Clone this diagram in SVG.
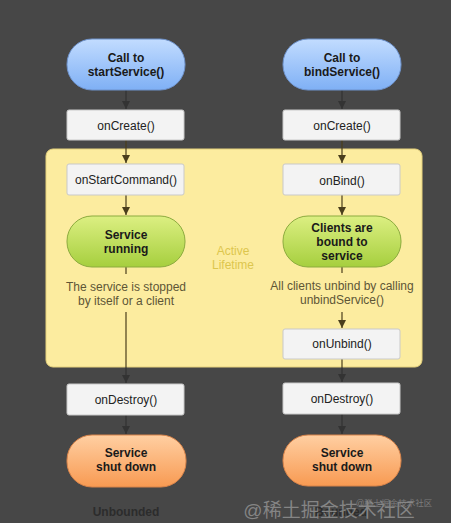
<svg xmlns="http://www.w3.org/2000/svg" width="451" height="523" viewBox="0 0 451 523">
<defs>
<linearGradient id="gBlue" x1="0" y1="0" x2="0" y2="1"><stop offset="0" stop-color="#c2dcff"/><stop offset="1" stop-color="#7fb0f5"/></linearGradient>
<linearGradient id="gGreen" x1="0" y1="0" x2="0" y2="1"><stop offset="0" stop-color="#dcef82"/><stop offset="1" stop-color="#a6cf3e"/></linearGradient>
<linearGradient id="gOrange" x1="0" y1="0" x2="0" y2="1"><stop offset="0" stop-color="#ffcfa2"/><stop offset="1" stop-color="#f89a52"/></linearGradient>
<marker id="arr" viewBox="0 0 10 10" refX="10" refY="5" markerWidth="8" markerHeight="8" markerUnits="userSpaceOnUse" orient="auto"><path d="M0,0 L10,5 L0,10 z" fill="#333"/></marker>
<marker id="arrB" viewBox="0 0 10 10" refX="10" refY="5" markerWidth="8" markerHeight="8" markerUnits="userSpaceOnUse" orient="auto"><path d="M0,0 L10,5 L0,10 z" fill="#4a3e1c"/></marker>
</defs>
<style>
text{font-family:"Liberation Sans",Arial,sans-serif;text-anchor:middle}
.box{fill:#f3f3f3;stroke:#c9c9c9;stroke-width:1}
.bl{font-size:12px;fill:#222}
.pl{font-size:12px;font-weight:bold;fill:#1a1a1a}
.blue{fill:url(#gBlue);stroke:#6f93cc;stroke-width:1}
.green{fill:url(#gGreen);stroke:#8cab3e;stroke-width:1}
.orange{fill:url(#gOrange);stroke:#d9844a;stroke-width:1}
.desc{font-size:12px;fill:#5e5636}
.ln{stroke:#333;stroke-width:1.2;fill:none}
.lnb{stroke:#4a3e1c;stroke-width:1.2;fill:none}
</style>
<rect width="451" height="523" fill="#474747"/>
<g id="active-lifetime">
<rect x="46" y="149" width="376" height="218" rx="7" fill="#fcec9f" stroke="#e6d27c" stroke-width="1"/>
<text x="233" y="255" font-size="12" fill="#dcc64e">Active</text>
<text x="233" y="269" font-size="12" fill="#dcc64e">Lifetime</text>
</g>
<g id="connectors">
<line class="ln" x1="126" y1="90" x2="126" y2="109" marker-end="url(#arr)"/>
<line class="ln" x1="342" y1="90" x2="342" y2="109" marker-end="url(#arr)"/>
<line class="lnb" x1="126" y1="140" x2="126" y2="163" marker-end="url(#arrB)"/>
<line class="lnb" x1="342" y1="140" x2="342" y2="163" marker-end="url(#arrB)"/>
<line class="lnb" x1="126" y1="195" x2="126" y2="215" marker-end="url(#arrB)"/>
<line class="lnb" x1="342" y1="195" x2="342" y2="215" marker-end="url(#arrB)"/>
<line class="lnb" x1="126" y1="267" x2="126" y2="274"/>
<line class="lnb" x1="342" y1="267" x2="342" y2="273"/>
<line class="lnb" x1="126" y1="312" x2="126" y2="367"/>
<line class="ln" x1="126" y1="367" x2="126" y2="383" marker-end="url(#arr)"/>
<line class="lnb" x1="342" y1="312" x2="342" y2="328" marker-end="url(#arrB)"/>
<line class="lnb" x1="342" y1="359" x2="342" y2="367"/>
<line class="ln" x1="342" y1="367" x2="342" y2="382" marker-end="url(#arr)"/>
<line class="ln" x1="126" y1="415" x2="126" y2="434" marker-end="url(#arr)"/>
<line class="ln" x1="342" y1="414" x2="342" y2="434" marker-end="url(#arr)"/>
</g>
<g id="start-call"><rect class="blue" x="67" y="39" width="118" height="51" rx="25"/><text class="pl" x="126" y="62">Call to</text><text class="pl" x="126" y="76">startService()</text></g>
<g id="bind-call"><rect class="blue" x="283" y="39" width="118" height="51" rx="25"/><text class="pl" x="342" y="62">Call to</text><text class="pl" x="342" y="76">bindService()</text></g>
<g id="oncreate-l"><rect class="box" x="67" y="110" width="117" height="30" rx="2"/><text class="bl" x="126" y="130">onCreate()</text></g>
<g id="oncreate-r"><rect class="box" x="283" y="110" width="117" height="30" rx="2"/><text class="bl" x="342" y="130">onCreate()</text></g>
<g id="onstartcommand"><rect class="box" x="67" y="164" width="117" height="31" rx="2"/><text class="bl" x="126" y="184">onStartCommand()</text></g>
<g id="onbind"><rect class="box" x="283" y="164" width="117" height="31" rx="2"/><text class="bl" x="342" y="185">onBind()</text></g>
<g id="running"><rect class="green" x="67" y="216" width="118" height="51" rx="25"/><text class="pl" x="126" y="239">Service</text><text class="pl" x="126" y="253">running</text></g>
<g id="bound"><rect class="green" x="283" y="216" width="118" height="51" rx="25"/><text class="pl" x="342" y="232">Clients are</text><text class="pl" x="342" y="246">bound to</text><text class="pl" x="342" y="260">service</text></g>
<g id="stop-desc"><text class="desc" x="126" y="291">The service is stopped</text><text class="desc" x="126" y="305">by itself or a client</text></g>
<g id="unbind-desc"><text class="desc" x="342" y="290">All clients unbind by calling</text><text class="desc" x="342" y="304">unbindService()</text></g>
<g id="onunbind"><rect class="box" x="283" y="329" width="117" height="30" rx="2"/><text class="bl" x="342" y="348">onUnbind()</text></g>
<g id="ondestroy-l"><rect class="box" x="67" y="384" width="117" height="31" rx="2"/><text class="bl" x="126" y="404">onDestroy()</text></g>
<g id="ondestroy-r"><rect class="box" x="283" y="383" width="117" height="31" rx="2"/><text class="bl" x="342" y="403">onDestroy()</text></g>
<g id="shutdown-l"><rect class="orange" x="67" y="435" width="119" height="52" rx="25"/><text class="pl" x="126" y="457">Service</text><text class="pl" x="126" y="471">shut down</text></g>
<g id="shutdown-r"><rect class="orange" x="283" y="435" width="118" height="51" rx="25"/><text class="pl" x="342" y="457">Service</text><text class="pl" x="342" y="471">shut down</text></g>
<g id="captions"><text x="126" y="516" font-size="12" font-weight="bold" fill="#2c2c2c">Unbounded</text><text x="341" y="516" font-size="12" font-weight="bold" fill="#2c2c2c">Bounded</text></g>
<g id="watermark">
<text x="329" y="517" font-size="19" fill="#9a9a9a" fill-opacity="0.75" style="font-family:'Liberation Sans','Noto Sans CJK SC',sans-serif">@稀土掘金技术社区</text>
<text x="394" y="506" font-size="8.5" fill="#8a8a8a" fill-opacity="0.8" style="font-family:'Liberation Sans','Noto Sans CJK SC',sans-serif">@稀土掘金技术社区</text>
</g>
</svg>
